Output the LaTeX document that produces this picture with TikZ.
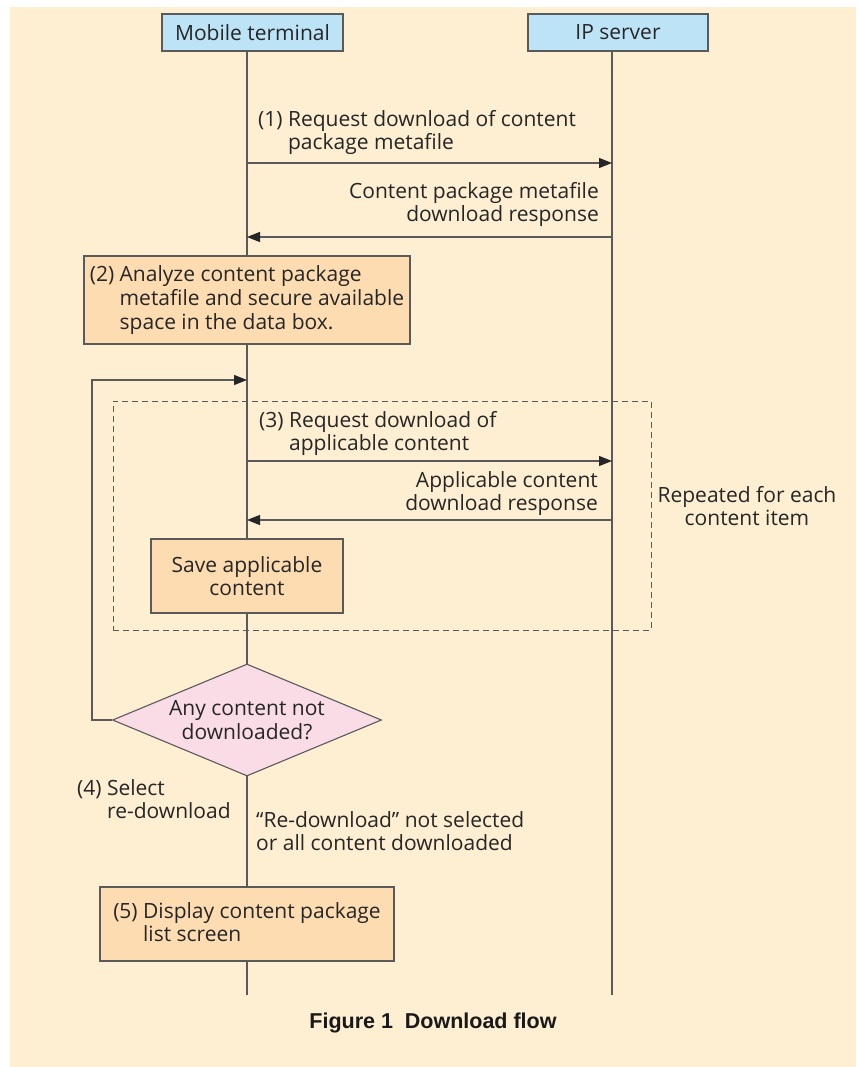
\documentclass[tikz,border=0pt]{standalone}
\usepackage{fontspec}
\setmainfont{Open Sans}
\newfontfamily\capfont{Liberation Sans}
\usetikzlibrary{shapes.geometric,arrows.meta}
\definecolor{bg}{HTML}{FEEED2}
\definecolor{hdrblue}{HTML}{BDE3F7}
\definecolor{peach}{HTML}{FDDCB1}
\definecolor{pinkd}{HTML}{FADCE7}
\definecolor{linec}{HTML}{5A5A5A}
\definecolor{txt}{HTML}{262626}
\begin{document}
\begin{tikzpicture}[x=1pt,y=-1pt,
  every node/.style={text=txt, font=\fontsize{21}{23}\selectfont},
  hdr/.style={draw=linec, line width=1.2pt, fill=hdrblue, minimum height=37pt, inner sep=0pt},
  procbox/.style={draw=linec, line width=1.2pt, fill=peach, inner sep=0pt},
  lbl/.style={inner sep=0pt},
  life/.style={draw=linec, line width=1.1pt},
  msg/.style={draw=linec, line width=1.1pt, -{Triangle[length=13pt,width=10pt,color=txt]}},
  dashbox/.style={draw=linec, line width=1pt, dash pattern=on 6pt off 4pt, inner sep=0pt}
]
\useasboundingbox (0,0) rectangle (856,1067);
\fill[bg] (10,7) rectangle (856,1067);

% dashed repetition frame
\node[dashbox, minimum width=538pt, minimum height=229pt] (rep) at (382,515.5) {};
\node[lbl, align=center] (repT) at (747,506) {Repeated for each\\content item};

% headers
\node[hdr, minimum width=181pt] (mt) at (252.5,32.5) {Mobile terminal};
\node[hdr, minimum width=180pt] (ip) at (618,32.5) {IP server};

% lifelines
\coordinate (mtBot) at (247,995);
\coordinate (ipBot) at (612,995);
\draw[life] (mt.south -| mtBot) -- (mtBot);
\draw[life] (ip.south -| ipBot) -- (ipBot);

% messages
\coordinate (m1) at (247,163); \coordinate (s1) at (612,163);
\coordinate (m2) at (247,237); \coordinate (s2) at (612,237);
\coordinate (m3) at (247,461); \coordinate (s3) at (612,461);
\coordinate (m4) at (247,520); \coordinate (s4) at (612,520);
\draw[msg] (m1) -- (s1);
\draw[msg] (s2) -- (m2);
\draw[msg] (m3) -- (s3);
\draw[msg] (s4) -- (m4);

\node[lbl, anchor=base west, align=left] (t1) at (258,150)
  {(1) Request download of content\\\phantom{(1) }package metafile};
\node[lbl, anchor=base east, align=right] (t2) at (599,222)
  {Content package metafile\\download response};
\node[lbl, anchor=base west, align=left] (t3) at (259,450)
  {(3) Request download of\\\phantom{(3) }applicable content};
\node[lbl, anchor=base east, align=right] (t4) at (598,510)
  {Applicable content\\download response};

% process boxes
\node[procbox, minimum width=326pt, minimum height=88pt, align=left,
      font=\fontsize{21}{24}\selectfont] (b2) at (247,300)
  {(2) Analyze content package\\\phantom{(2) }metafile and secure available\\\phantom{(2) }space in the data box.};
\node[procbox, minimum width=192pt, minimum height=74pt, align=center] (save) at (247,576)
  {Save applicable\\content};

% decision
\node[diamond, draw=linec, line width=1.1pt, fill=pinkd, aspect=2.4, inner sep=0pt,
      minimum width=269pt, minimum height=112pt, align=center,
      font=\fontsize{21}{24.5}\selectfont] (dia) at (247,720)
  {Any content not\\downloaded?};
\coordinate (loopTop) at (247,380);
\draw[msg] (dia.west) -- ++(-20,0) |- (loopTop);

\node[lbl, anchor=base west, align=left] (t5) at (77,818)
  {(4) Select\\\phantom{(4) }re-download};
\node[lbl, anchor=base west, align=left] (t6) at (256,850)
  {“Re-download” not selected\\or all content downloaded};

\node[procbox, minimum width=294pt, minimum height=74pt, align=left] (b5) at (247,924)
  {(5) Display content package\\\phantom{(5) }list screen};

% caption
\node[font=\capfont\bfseries\fontsize{21.5}{24}\selectfont, text=black!90] (cap) at (433,1023)
  {Figure 1\hspace{0.55em}Download flow};
\end{tikzpicture}
\end{document}
